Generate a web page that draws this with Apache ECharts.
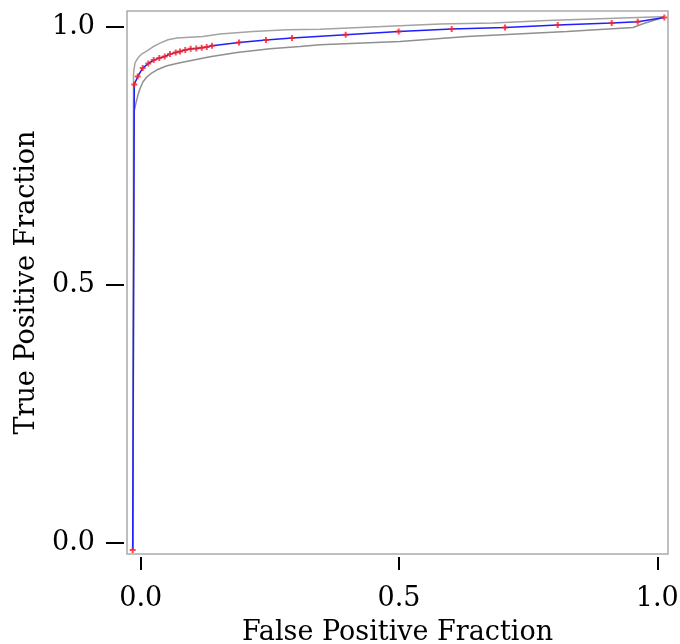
<!DOCTYPE html>
<html><head><meta charset="utf-8">
<script src="https://cdn.jsdelivr.net/npm/echarts@6/dist/echarts.min.js"></script>
<style>html,body{margin:0;padding:0;background:#fff}#c{width:680px;height:644px}</style>
</head><body><div id="c"></div>
<script>
// ROC curve (blue) — operating points marked with red crosses
const pointFPR = [-0.0155, -0.0124, -0.0058, 0.0039, 0.0147, 0.0252, 0.0360, 0.0465, 0.0567, 0.0678, 0.0761, 0.0863, 0.0968, 0.1076, 0.1181, 0.1278, 0.1380, 0.1903, 0.2425, 0.2929, 0.3968, 0.4994, 0.6020, 0.7052, 0.8072, 0.9117, 0.9621, 1.0136];
const pointTPR = [-0.0141, 0.8876, 0.9031, 0.9194, 0.9283, 0.9349, 0.9388, 0.9419, 0.9465, 0.9496, 0.9516, 0.9543, 0.9568, 0.9574, 0.9587, 0.9601, 0.9626, 0.9690, 0.9736, 0.9775, 0.9839, 0.9903, 0.9950, 0.9981, 1.0027, 1.0066, 1.0091, 1.0174];
// upper confidence band
const upperFPR = [-0.0149, -0.0139, -0.0130, -0.0110, -0.0052, 0.0025, 0.0122, 0.0238, 0.0374, 0.0529, 0.0703, 0.0954, 0.1206, 0.1535, 0.2174, 0.2832, 0.3471, 0.4245, 0.5794, 0.6820, 0.7865, 0.8891, 0.9917, 1.0130];
const upperTPR = [-0.0141, 0.9060, 0.9161, 0.9297, 0.9394, 0.9471, 0.9529, 0.9607, 0.9678, 0.9742, 0.9775, 0.9791, 0.9806, 0.9853, 0.9903, 0.9936, 0.9946, 0.9981, 1.0047, 1.0066, 1.0116, 1.0149, 1.0182, 1.0188];
// lower confidence band
const lowerFPR = [-0.0149, -0.0130, -0.0091, -0.0052, -0.0014, 0.0045, 0.0122, 0.0219, 0.0316, 0.0509, 0.0761, 0.1051, 0.1342, 0.1864, 0.2503, 0.3084, 0.3471, 0.5019, 0.6316, 0.8252, 0.9530, 0.9723, 1.0110];
const lowerTPR = [-0.0141, 0.8347, 0.8521, 0.8676, 0.8793, 0.8928, 0.9025, 0.9103, 0.9161, 0.9238, 0.9297, 0.9355, 0.9413, 0.9496, 0.9568, 0.9612, 0.9645, 0.9709, 0.9806, 0.9903, 0.9981, 1.0052, 1.0174];
const tickValues = [0, 0.5, 1.0];
const xName = 'False Positive Fraction';
const yName = 'True Positive Fraction';

const zip = (a, b) => a.map((v, i) => [v, b[i]]);
const font = 'DejaVu Serif';
const chart = echarts.init(document.getElementById('c'), null, {renderer: 'canvas'});
const axisCommon = {
  type: 'value',
  axisLine: {show: false, onZero: false},
  splitLine: {show: false},
  axisTick: {show: true, inside: false, customValues: tickValues, lineStyle: {color: '#000', width: 2}},
  axisLabel: {inside: false, customValues: tickValues, formatter: v => v.toFixed(1), color: '#000', fontFamily: font, fontSize: 27},
  nameLocation: 'middle',
  nameTextStyle: {color: '#000', fontFamily: font, fontSize: 27},
  offset: 3
};
chart.setOption({
  animation: false,
  grid: {left: 127, top: 11, width: 541, height: 543, outerBoundsMode: 'none', containLabel: false, show: true, borderColor: '#aaa', borderWidth: 1.5, backgroundColor: 'transparent'},
  xAxis: Object.assign({}, axisCommon, {
    min: -0.0265, max: 1.0207, name: xName, nameGap: 62,
    axisTick: Object.assign({}, axisCommon.axisTick, {length: 13}),
    axisLabel: Object.assign({}, axisCommon.axisLabel, {margin: 28})
  }),
  yAxis: Object.assign({}, axisCommon, {
    min: -0.0219, max: 1.030, name: yName, nameGap: 84,
    axisTick: Object.assign({}, axisCommon.axisTick, {length: 18}),
    axisLabel: Object.assign({}, axisCommon.axisLabel, {margin: 29})
  }),
  series: [
    {type: 'line', data: zip(upperFPR, upperTPR), showSymbol: false, lineStyle: {color: '#a3a3a3', width: 1.5}, z: 1},
    {type: 'line', data: zip(lowerFPR, lowerTPR), showSymbol: false, lineStyle: {color: '#8f8f8f', width: 1.5}, z: 1},
    {type: 'line', data: zip(pointFPR, pointTPR), showSymbol: false, lineStyle: {color: '#1f1fff', width: 1.5}, z: 2},
    {type: 'scatter', data: zip(pointFPR, pointTPR), symbol: 'path://M2,0H4V2H6V4H4V6H2V4H0V2H2Z', symbolSize: 6, itemStyle: {color: '#ff2020'}, z: 3}
  ]
});
</script>
</body></html>
